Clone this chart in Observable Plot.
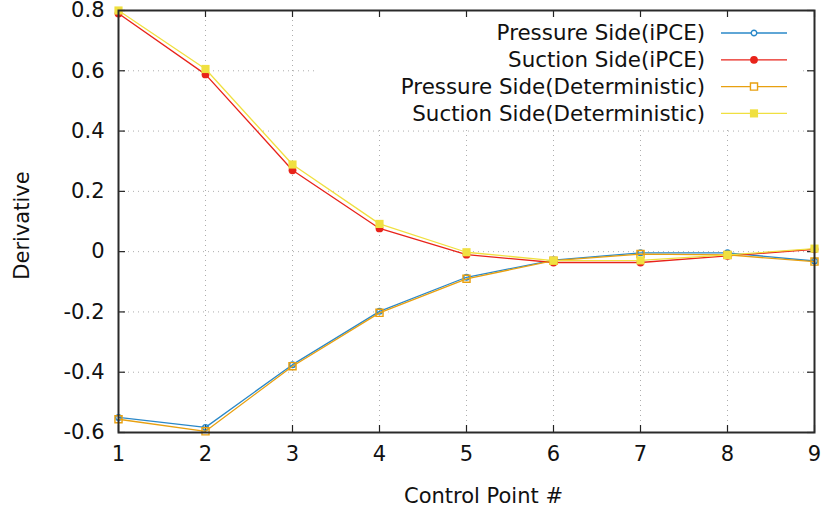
<!DOCTYPE html>
<html>
<head>
<meta charset="utf-8">
<script src="https://cdn.jsdelivr.net/npm/d3@7"></script>
<script src="https://cdn.jsdelivr.net/npm/@observablehq/plot@0.6"></script>
<style>
  html, body { margin: 0; padding: 0; background: #fff; }
  #chart svg { display: block; }
</style>
</head>
<body>
<div id="chart"></div>
<script>
// Control point indices along the blade
const controlPoints = [1, 2, 3, 4, 5, 6, 7, 8, 9];

// Sensitivity derivatives per control point
const pressureIPCE  = [-0.550, -0.583, -0.375, -0.198, -0.085, -0.028, -0.004, -0.004, -0.031];
const suctionIPCE   = [ 0.790,  0.588,  0.270,  0.077, -0.010, -0.036, -0.036, -0.014,  0.008];
const pressureDet   = [-0.556, -0.596, -0.380, -0.203, -0.090, -0.030, -0.008, -0.011, -0.033];
const suctionDet    = [ 0.800,  0.606,  0.289,  0.092, -0.002, -0.030, -0.029, -0.011,  0.010];

const seriesNames = [
  "Pressure Side(iPCE)",
  "Suction Side(iPCE)",
  "Pressure Side(Deterministic)",
  "Suction Side(Deterministic)"
];
const seriesValues = [pressureIPCE, suctionIPCE, pressureDet, suctionDet];
const seriesColors = ["#2a88c8", "#e8231a", "#e8a010", "#f0e040"];
const seriesSymbols = ["circle", "circle", "square", "square"];
const seriesFilled = [false, true, false, true];
const seriesRadius = [2.8, 3.9, 4.0, 4.6];

const xTicks = [1, 2, 3, 4, 5, 6, 7, 8, 9];
const yTicks = [-0.6, -0.4, -0.2, 0, 0.2, 0.4, 0.6, 0.8];

const xLabel = "Control Point #";
const yLabel = "Derivative";

const FONT = "DejaVu Sans, Verdana, sans-serif";
const W = 826, H = 516;
const M = {top: 10, right: 12, bottom: 84, left: 118};
const frameH = H - M.top - M.bottom;
const frameW = W - M.left - M.right;
const tickLen = 7;

const rows = seriesNames.map((name, s) =>
  controlPoints.map((cp, i) => ({series: name, s, x: cp, y: seriesValues[s][i]}))
);

const gridStyle = {stroke: "#999", strokeWidth: 1, strokeDasharray: "1,4", strokeOpacity: 0.8};
const tickStyle = {stroke: "#222", strokeWidth: 1.2};

const marks = [
  // dotted grid
  Plot.ruleX(xTicks, {x: d => d, ...gridStyle}),
  Plot.ruleY(yTicks, {y: d => d, ...gridStyle}),
  // inward ticks on all four sides
  Plot.ruleX(xTicks, {x: d => d, insetTop: frameH - tickLen, ...tickStyle}),
  Plot.ruleX(xTicks, {x: d => d, insetBottom: frameH - tickLen, ...tickStyle}),
  Plot.ruleY(yTicks, {y: d => d, insetRight: frameW - tickLen, ...tickStyle}),
  Plot.ruleY(yTicks, {y: d => d, insetLeft: frameW - tickLen, ...tickStyle}),
  Plot.axisX(xTicks, {tickSize: 0, tickPadding: 14, fontSize: 21, fill: "#111", label: null}),
  Plot.axisY(yTicks, {tickSize: 0, tickPadding: 14, fontSize: 21, fill: "#111", label: null,
    tickFormat: d => d === 0 ? "0" : d.toFixed(1)}),
];

rows.forEach((data, s) => {
  marks.push(Plot.line(data, {x: "x", y: "y", stroke: seriesColors[s], strokeWidth: 1.3}));
  marks.push(Plot.dot(data, {
    x: "x", y: "y",
    symbol: seriesSymbols[s],
    r: seriesRadius[s],
    fill: seriesFilled[s] ? seriesColors[s] : "none",
    stroke: seriesColors[s],
    strokeWidth: seriesFilled[s] ? 0 : 1.4
  }));
});

marks.push(
  Plot.frame({stroke: "#2a2a2a", strokeWidth: 2}),
  Plot.text([xLabel], {frameAnchor: "bottom", dy: 64, dx: 17, textAnchor: "middle", lineAnchor: "middle",
    fontSize: 21, fill: "#111", text: d => d}),
  Plot.text([yLabel], {frameAnchor: "left", dx: -96, dy: 4, rotate: -90, textAnchor: "middle", lineAnchor: "middle",
    fontSize: 21, fill: "#111", text: d => d})
);

const svg = Plot.plot({
  width: W,
  height: H,
  marginTop: M.top,
  marginRight: M.right,
  marginBottom: M.bottom,
  marginLeft: M.left,
  style: {fontFamily: FONT, background: "#fff", overflow: "visible"},
  x: {domain: [1, 9]},
  y: {domain: [-0.6, 0.8]},
  marks
});

// Key box in the upper right corner of the frame
const root = d3.select(svg);
const key = root.insert("g", "g[aria-label='line']").attr("aria-label", "key");
key.append("rect")
  .attr("x", 318).attr("y", 18).attr("width", 484).attr("height", 108)
  .attr("fill", "#fff");

const keyTop = root.append("g").attr("aria-label", "key-entries")
  .attr("font-family", FONT).attr("font-size", 21.4);
const textRight = M.left + frameW - 109;
const lineX1 = M.left + frameW - 93, lineX2 = M.left + frameW - 27;
const markX = (lineX1 + lineX2) / 2;
seriesNames.forEach((name, s) => {
  const cy = M.top + 23 + s * 26.8;
  keyTop.append("text")
    .attr("x", textRight).attr("y", cy).attr("dy", "0.35em")
    .attr("text-anchor", "end").attr("fill", "#111").text(name);
  keyTop.append("line")
    .attr("x1", lineX1).attr("x2", lineX2).attr("y1", cy).attr("y2", cy)
    .attr("stroke", seriesColors[s]).attr("stroke-width", 1.3);
  const sym = seriesSymbols[s] === "square" ? d3.symbolSquare : d3.symbolCircle;
  keyTop.append("path")
    .attr("transform", `translate(${markX},${cy})`)
    .attr("d", d3.symbol(sym, Math.PI * seriesRadius[s] ** 2)())
    .attr("fill", seriesFilled[s] ? seriesColors[s] : "#fff")
    .attr("stroke", seriesColors[s])
    .attr("stroke-width", seriesFilled[s] ? 0 : 1.4);
});

document.getElementById("chart").appendChild(svg);
</script>
</body>
</html>
